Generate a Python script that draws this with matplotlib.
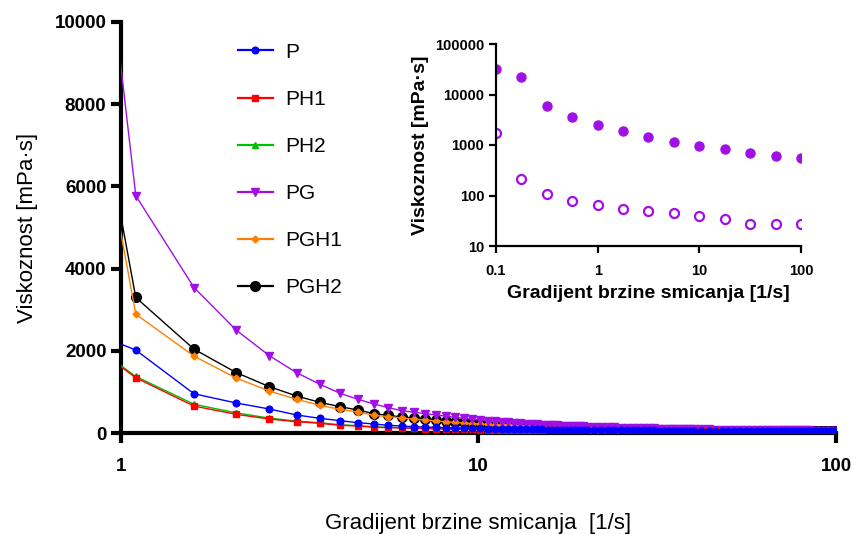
import numpy as np
import matplotlib.pyplot as plt

plt.rcParams['font.family'] = ['Liberation Sans', 'DejaVu Sans']

# shear rate grid of the main plot [1/s]
shear = np.concatenate([np.arange(0.6, 10.2, 0.5), np.arange(10.6, 20.2, 0.5),
                        np.arange(21, 41, 1.0), np.arange(42, 101, 2.0)])

P = [2945, 2017, 955, 730, 584, 438, 357, 300, 251, 219, 187, 170, 153, 145, 137, 130, 124, 119, 115, 111,
     108, 105, 102, 99, 97, 95, 93, 91, 89, 87, 85, 84, 82, 81, 80, 78, 77, 76, 75, 74,
     72, 71, 70, 68, 67, 66, 65, 64, 63, 62, 61, 60, 60, 59, 58, 57, 57, 56, 55, 55,
     54, 53, 52, 52, 51, 50, 50, 49, 49, 48, 48, 47, 47, 46, 46, 46, 45, 45, 45, 44,
     44, 44, 43, 43, 43, 42, 42, 42, 42, 41]
PH1 = [3040, 1344, 656, 454, 340, 275, 235, 187, 170, 140, 130, 121, 113, 106, 102, 97, 93, 89, 86, 83,
       80, 78, 76, 74, 72, 70, 68, 67, 65, 64, 63, 62, 61, 60, 59, 58, 57, 56, 55, 54,
       53, 52, 51, 50, 49, 48, 48, 47, 46, 46, 45, 44, 44, 43, 43, 42, 42, 41, 41, 40,
       40, 39, 39, 38, 38, 37, 37, 37, 36, 36, 36, 35, 35, 35, 34, 34, 34, 34, 33, 33,
       33, 33, 32, 32, 32, 32, 31, 31, 31, 31]
PH2 = [3040, 1375, 700, 490, 362, 290, 250, 200, 180, 150, 140, 130, 121, 114, 108, 103, 99, 95, 92, 89,
       86, 83, 81, 79, 77, 75, 73, 71, 70, 68, 67, 66, 65, 64, 63, 62, 61, 60, 59, 58,
       57, 56, 55, 54, 53, 52, 51, 50, 50, 49, 48, 48, 47, 46, 46, 45, 45, 44, 44, 43,
       43, 42, 41, 41, 40, 40, 39, 39, 39, 38, 38, 38, 37, 37, 37, 36, 36, 36, 35, 35,
       35, 35, 34, 34, 34, 34, 33, 33, 33, 33]
PG = [25600, 5774, 3540, 2503, 1881, 1467, 1185, 966, 820, 706, 616, 543, 503, 470, 440, 410, 381, 357, 333, 316,
      300, 284, 271, 259, 248, 238, 229, 221, 213, 206, 199, 193, 187, 182, 177, 172, 168, 164, 160, 156,
      150, 145, 140, 135, 131, 127, 123, 120, 117, 114, 111, 108, 106, 104, 102, 100, 98, 96, 94, 92,
      89, 86, 84, 82, 80, 78, 76, 75, 73, 72, 71, 70, 69, 68, 67, 66, 65, 64, 63, 62,
      62, 61, 60, 60, 59, 58, 58, 57, 57, 56]
PGH1 = [15370, 2890, 1870, 1336, 1022, 819, 673, 576, 511, 430, 400, 365, 340, 316, 295, 276, 259, 244, 231, 219,
        210, 202, 195, 188, 181, 175, 169, 163, 158, 153, 148, 143, 139, 135, 131, 127, 124, 121, 118, 115,
        111, 107, 103, 100, 97, 94, 91, 88, 86, 84, 82, 80, 78, 76, 74, 73, 72, 70, 69, 68,
        67, 65, 64, 62, 61, 60, 59, 58, 57, 56, 55, 54, 53, 53, 52, 51, 51, 50, 50, 49,
        49, 48, 48, 47, 47, 46, 46, 46, 45, 45]
PGH2 = [15750, 3297, 2040, 1470, 1127, 900, 746, 640, 560, 470, 430, 389, 365, 340, 316, 296, 278, 262, 248, 235,
        180, 172, 165, 158, 152, 146, 140, 135, 130, 125, 120, 116, 112, 108, 105, 102, 99, 96, 93, 90,
        87, 84, 82, 80, 78, 76, 74, 72, 71, 70, 68, 67, 66, 65, 64, 63, 62, 61, 60, 59,
        54, 53, 52, 52, 51, 50, 50, 49, 49, 48, 48, 47, 47, 46, 46, 46, 45, 45, 45, 44,
        44, 44, 43, 43, 43, 42, 42, 42, 42, 41]

# inset data
inset_x = [0.1, 0.178, 0.316, 0.562, 1, 1.78, 3.16, 5.62, 10, 17.8, 31.6, 56.2, 100]
inset_filled = [31500, 22500, 5920, 3580, 2490, 1890, 1462, 1164, 970, 821, 705, 615, 553]
inset_open = [1755, 209, 105, 79, 65, 54, 49, 46, 40, 35, 27.7, 27.7, 27.7]

purple = '#A010E6'
series = [
    ('P', P, '#0000FF', 'o', 4.8),
    ('PH1', PH1, '#FF0000', 's', 5),
    ('PH2', PH2, '#00C000', '^', 4.5),
    ('PG', PG, purple, 'v', 5.5),
    ('PGH1', PGH1, '#FF8000', 'D', 3.5),
    ('PGH2', PGH2, '#000000', 'o', 7),
]

fig = plt.figure(figsize=(8.53, 5.34), dpi=100)
ax = fig.add_axes([121 / 853, 1 - 433 / 534, 715 / 853, 411 / 534])

n = len(series)
for i, (name, y, c, m, ms) in enumerate(series):
    ax.plot(shear, y, color=c, marker=m, markersize=ms, linewidth=1.0, label=name, zorder=10 + n - i)

ax.set_xscale('log')
ax.set_xlim(1, 100)
ax.set_ylim(0, 10000)
ax.set_xticks([1, 10, 100])
ax.set_xticklabels(['1', '10', '100'])
ax.minorticks_off()
ax.set_yticks(range(0, 10001, 2000))
for s in ['top', 'right']:
    ax.spines[s].set_visible(False)
for s in ['left', 'bottom']:
    ax.spines[s].set_linewidth(3)
ax.tick_params(axis='both', width=3, length=7, labelsize=13.5)
ax.tick_params(axis='x', pad=11)
for lab in ax.get_xticklabels() + ax.get_yticklabels():
    lab.set_fontweight('bold')
ax.set_xlabel('Gradijent brzine smicanja  [1/s]', fontsize=16, labelpad=27)
ax.set_ylabel('Viskoznost [mPa·s]', fontsize=16, labelpad=12)

leg = ax.legend(loc='upper left', bbox_to_anchor=(219 / 853, 1 - 24 / 534), bbox_transform=fig.transFigure,
                frameon=False, fontsize=15, handlelength=1.7, labelspacing=1.35, handletextpad=0.6)
for line in leg.get_lines():
    line.set_linewidth(1.6)

# inset
ax2 = fig.add_axes([496 / 853, 1 - 246 / 534, 305 / 853, 202 / 534])
ax2.plot(inset_x, inset_filled, 'o', color=purple, markersize=6.5, linestyle='none')
ax2.plot(inset_x, inset_open, 'o', color=purple, markerfacecolor='white', markeredgewidth=1.6,
         markersize=6.5, linestyle='none')
ax2.set_xscale('log')
ax2.set_yscale('log')
ax2.set_xlim(0.1, 100)
ax2.set_ylim(10, 100000)
ax2.set_xticks([0.1, 1, 10, 100])
ax2.set_xticklabels(['0.1', '1', '10', '100'])
ax2.set_yticks([10, 100, 1000, 10000, 100000])
ax2.set_yticklabels(['10', '100', '1000', '10000', '100000'])
ax2.minorticks_off()
for s in ['top', 'right']:
    ax2.spines[s].set_visible(False)
for s in ['left', 'bottom']:
    ax2.spines[s].set_linewidth(1.6)
ax2.tick_params(axis='both', width=1.6, length=5, labelsize=10.5)
ax2.tick_params(axis='x', pad=8)
for lab in ax2.get_xticklabels() + ax2.get_yticklabels():
    lab.set_fontweight('bold')
ax2.set_xlabel('Gradijent brzine smicanja [1/s]', fontsize=14, fontweight='bold', labelpad=5)
ax2.set_ylabel('Viskoznost [mPa·s]', fontsize=14, fontweight='bold', labelpad=4)

fig.savefig('out.png', dpi=100)
